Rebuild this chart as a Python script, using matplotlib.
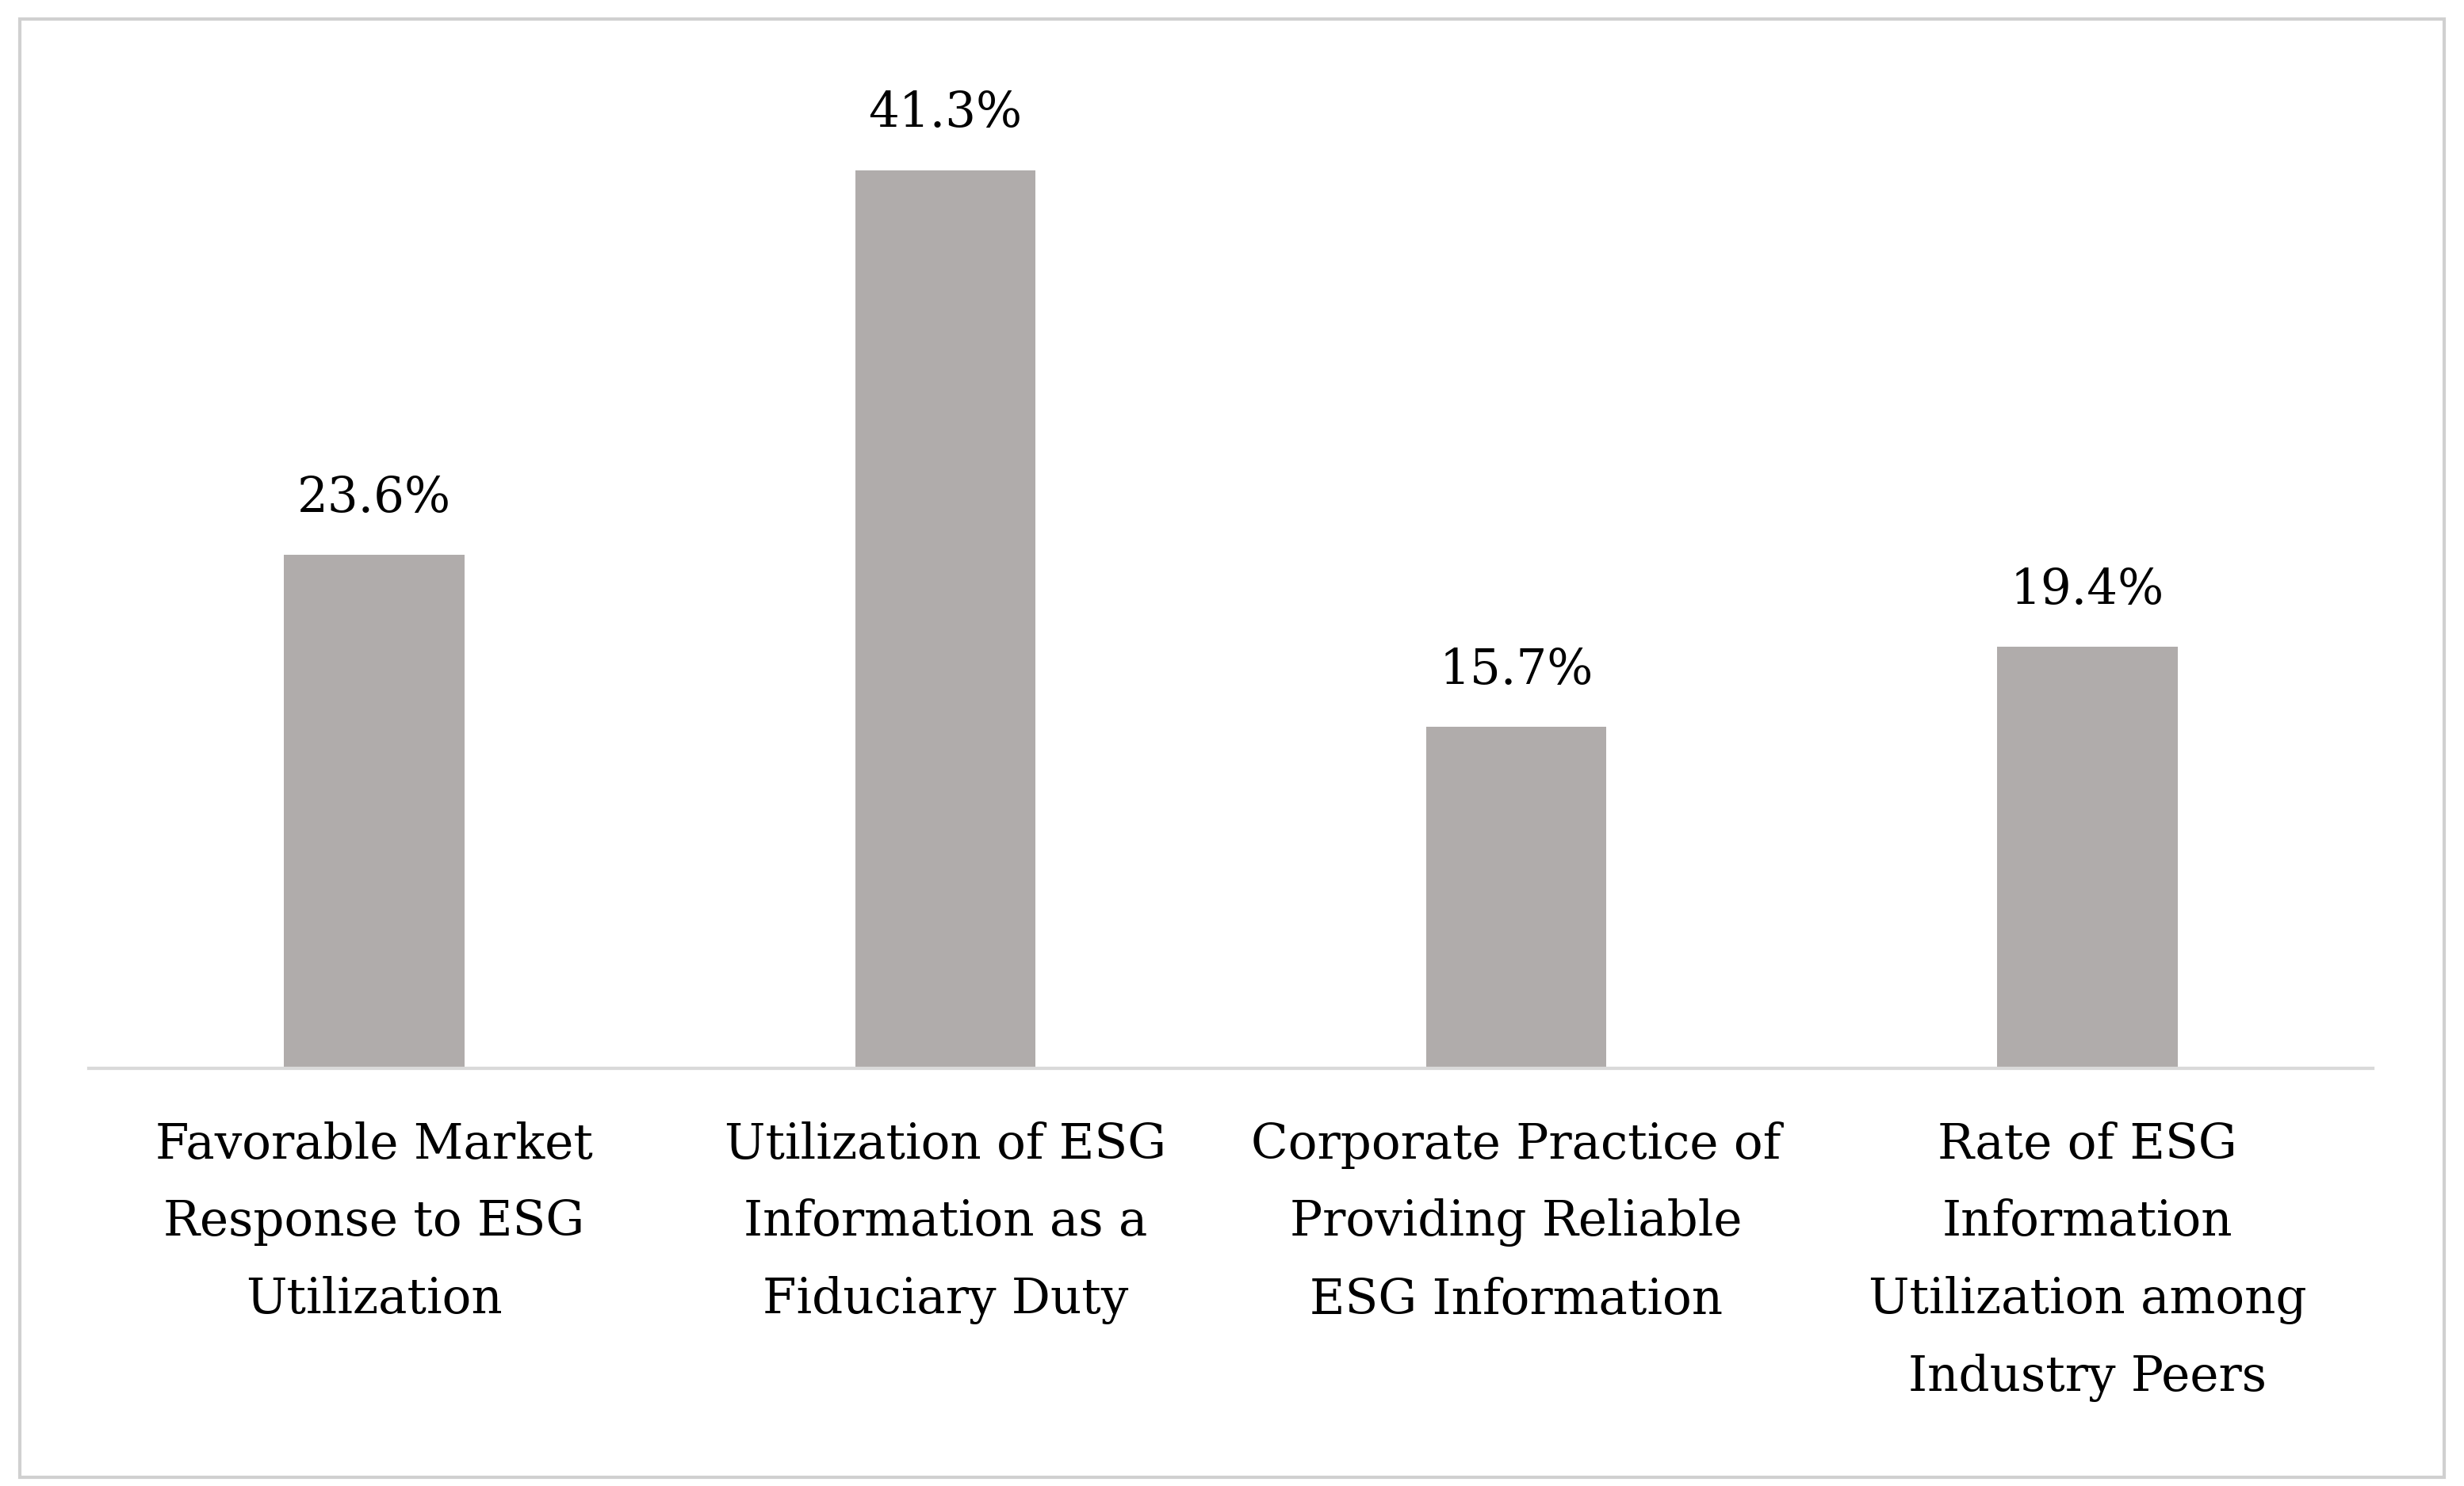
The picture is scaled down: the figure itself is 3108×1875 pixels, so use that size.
import matplotlib
matplotlib.use('Agg')
import matplotlib.pyplot as plt
from matplotlib.patches import Rectangle

categories = ['Favorable Market\nResponse to ESG\nUtilization',
              'Utilization of ESG\nInformation as a\nFiduciary Duty',
              'Corporate Practice of\nProviding Reliable\nESG Information',
              'Rate of ESG\nInformation\nUtilization among\nIndustry Peers']
values = [23.6, 41.3, 15.7, 19.4]
labels = ['23.6%', '41.3%', '15.7%', '19.4%']

plt.rcParams['font.family'] = ['DejaVu Serif']

fig = plt.figure(figsize=(15.54, 9.375), dpi=200)
ax = fig.add_axes([0.036, 0.281, 0.927, 0.666])
x = range(len(values))
ax.bar(x, values, width=0.316, color='#B0ACAB')
for xi, v, lab in zip(x, values, labels):
    ax.text(xi, v + 1.5, lab, ha='center', va='bottom', fontsize=22)

ax.set_xlim(-0.5, 3.5)
ax.set_ylim(0, 45.5)
ax.set_yticks([])
ax.set_xticks(list(x))
ax.set_xticklabels(categories, fontsize=22, linespacing=1.8, va='top')
ax.tick_params(axis='x', length=0, pad=24)
for s in ['top', 'right', 'left']:
    ax.spines[s].set_visible(False)
ax.spines['bottom'].set_color('#D9D9D9')
ax.spines['bottom'].set_linewidth(1.5)

fig.patches.append(Rectangle((0.008, 0.006), 0.984, 0.981, transform=fig.transFigure,
                             fill=False, edgecolor='#D0D0D0', linewidth=1.5))
fig.savefig('out.png', dpi=200)
